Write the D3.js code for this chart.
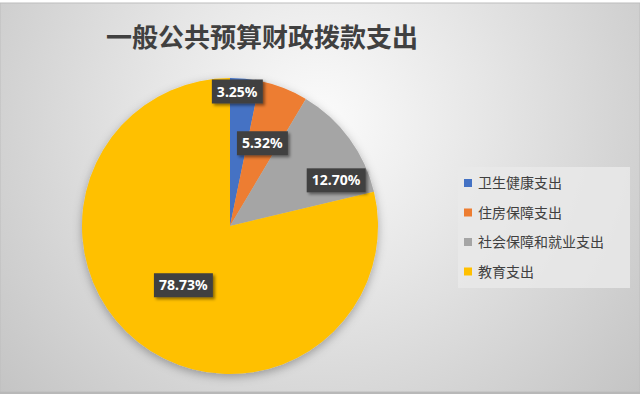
<!DOCTYPE html>
<html><head><meta charset="utf-8">
<script src="https://cdn.jsdelivr.net/npm/d3@7/dist/d3.min.js"></script>
<style>html,body{margin:0;padding:0;overflow:hidden;background:#fff}</style>
</head><body>
<script>
const title = "一般公共预算财政拨款支出";
const categories = ["卫生健康支出", "住房保障支出", "社会保障和就业支出", "教育支出"];
const values = [3.25, 5.32, 12.70, 78.73];
const labels = ["3.25%", "5.32%", "12.70%", "78.73%"];
const colors = ["#4472C4", "#ED7D31", "#A5A5A5", "#FFC000"];
// label placement (fraction of radius, angular shift in degrees) - layout only
const labelR = [0.91, 0.60, 0.78, 0.51];
const labelShift = [-2.8, 0, 13, 0];

const W = 640, H = 394;
const cx = 230, cy = 226, R = 148;
const svg = d3.select("body").append("svg").attr("width", W).attr("height", H);
const defs = svg.append("defs");
const rg = defs.append("radialGradient").attr("id","bg").attr("gradientUnits","userSpaceOnUse")
  .attr("cx", 320).attr("cy", 120).attr("r", 420);
rg.append("stop").attr("offset","0%").attr("stop-color","#fbfbfb");
rg.append("stop").attr("offset","40%").attr("stop-color","#e6e6e6");
rg.append("stop").attr("offset","100%").attr("stop-color","#c4c4c4");
const f = defs.append("filter").attr("id","sh").attr("x","-20%").attr("y","-20%").attr("width","140%").attr("height","140%");
f.append("feDropShadow").attr("dx",0).attr("dy",3).attr("stdDeviation",5).attr("flood-color","#000").attr("flood-opacity",0.3);
const f2 = defs.append("filter").attr("id","sh2").attr("x","-20%").attr("y","-30%").attr("width","150%").attr("height","180%");
f2.append("feDropShadow").attr("dx",2).attr("dy",2).attr("stdDeviation",1.5).attr("flood-color","#000").attr("flood-opacity",0.45);

svg.append("rect").attr("width",W).attr("height",H).attr("fill","#ffffff");
svg.append("rect").attr("x",0).attr("y",3).attr("width",W).attr("height",H-5).attr("fill","url(#bg)").attr("stroke","#bdbdbd").attr("stroke-width",1);
svg.append("rect").attr("x",0).attr("y",H-2).attr("width",W).attr("height",2).attr("fill","#b8b8b8");

svg.append("text").attr("x", 262).attr("y", 47).attr("text-anchor","middle")
  .attr("font-family","'Noto Sans CJK SC', sans-serif").attr("font-weight","bold")
  .attr("font-size", 26).attr("fill","#404040").text(title);

const pie = d3.pie().sort(null).value(d => d)(values);
const arc = d3.arc().innerRadius(0).outerRadius(R);
const g = svg.append("g").attr("transform", `translate(${cx},${cy})`);
g.append("g").attr("filter","url(#sh)").selectAll("path").data(pie).join("path")
  .attr("d", arc).attr("fill", (d,i) => colors[i]);

pie.forEach((d,i) => {
  const a = (d.startAngle + d.endAngle)/2 + labelShift[i]*Math.PI/180;
  const r = R*labelR[i];
  const x = Math.sin(a)*r, y = -Math.cos(a)*r;
  const lg = g.append("g").attr("transform", `translate(${x},${y})`);
  const t = lg.append("text").attr("text-anchor","middle").attr("dy","0.36em")
    .attr("font-family","'Noto Sans', 'DejaVu Sans', sans-serif").attr("font-weight","bold")
    .attr("font-size", 14).attr("fill","#ffffff").text(labels[i]);
  const bb = t.node().getBBox();
  lg.insert("rect","text").attr("x", bb.x-5).attr("y", -12).attr("width", bb.width+10).attr("height", 24)
    .attr("fill","#404040").attr("filter","url(#sh2)");
});

const leg = svg.append("g").attr("transform","translate(458,167)");
leg.append("rect").attr("width",172).attr("height",121).attr("fill","#e9e9e9").attr("opacity",0.85);
categories.forEach((c,i) => {
  const y = 16 + i*29.5;
  leg.append("rect").attr("x",6).attr("y",y-4).attr("width",8).attr("height",8).attr("fill",colors[i]);
  leg.append("text").attr("x",20).attr("y",y).attr("dy","0.36em")
    .attr("font-family","'Noto Sans CJK SC', sans-serif").attr("font-size",14).attr("fill","#404040").text(c);
});
</script>
</body></html>
